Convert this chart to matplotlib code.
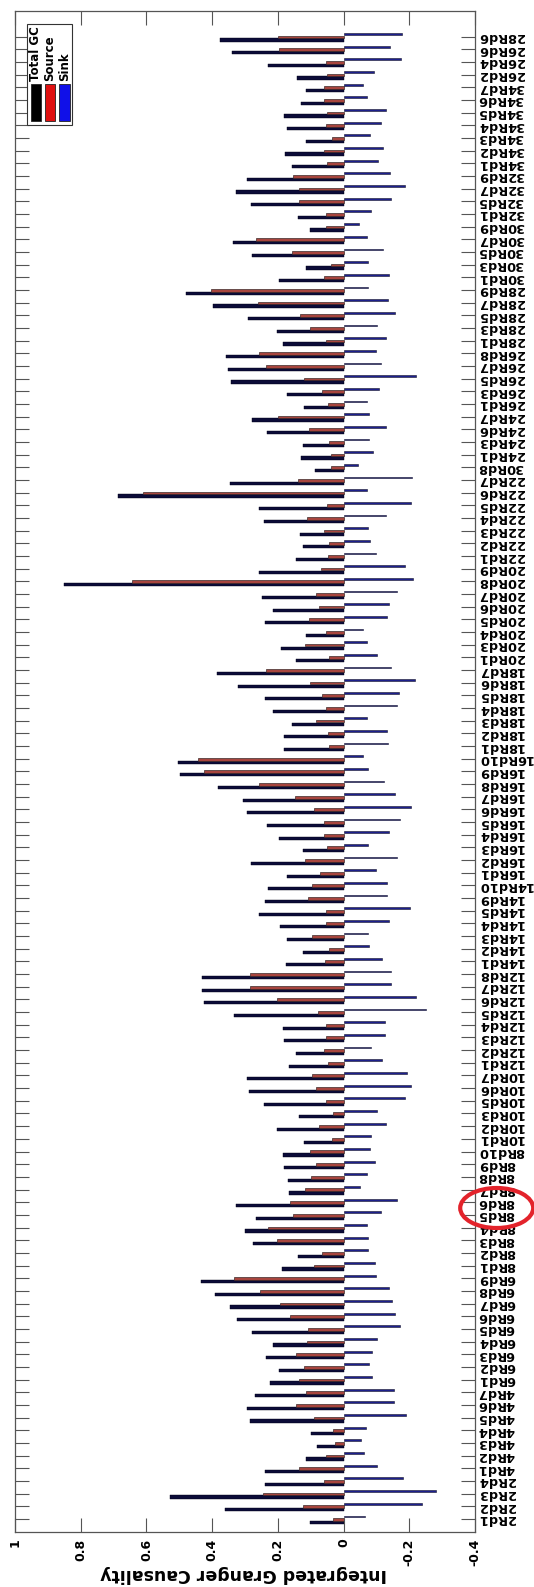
import matplotlib
matplotlib.use("Agg")
import matplotlib.pyplot as plt
from matplotlib.patches import Rectangle, Ellipse
import numpy as np

# Categories listed from the bottom of the chart (2Rd1) to the top (28Rd6)
labels = ['2Rd1', '2Rd2', '2Rd3', '2Rd4',
          '4Rd1', '4Rd2', '4Rd3', '4Rd4', '4Rd5', '4Rd6', '4Rd7',
          '6Rd1', '6Rd2', '6Rd3', '6Rd4', '6Rd5', '6Rd6', '6Rd7', '6Rd8', '6Rd9',
          '8Rd1', '8Rd2', '8Rd3', '8Rd4', '8Rd5', '8Rd6', '8Rd7', '8Rd8', '8Rd9', '8Rd10',
          '10Rd1', '10Rd2', '10Rd3', '10Rd5', '10Rd6', '10Rd7',
          '12Rd1', '12Rd2', '12Rd3', '12Rd4', '12Rd5', '12Rd6', '12Rd7', '12Rd8',
          '14Rd1', '14Rd2', '14Rd3', '14Rd4', '14Rd5', '14Rd9', '14Rd10',
          '16Rd1', '16Rd2', '16Rd3', '16Rd4', '16Rd5', '16Rd6', '16Rd7', '16Rd8', '16Rd9', '16Rd10',
          '18Rd1', '18Rd2', '18Rd3', '18Rd4', '18Rd5', '18Rd6', '18Rd7',
          '20Rd1', '20Rd3', '20Rd4', '20Rd5', '20Rd6', '20Rd7', '20Rd8', '20Rd9',
          '22Rd1', '22Rd2', '22Rd3', '22Rd4', '22Rd5', '22Rd6', '22Rd7',
          '30Rd8',
          '24Rd1', '24Rd3', '24Rd6', '24Rd7',
          '26Rd1', '26Rd3', '26Rd5', '26Rd7', '26Rd8',
          '28Rd1', '28Rd3', '28Rd5', '28Rd7', '28Rd9',
          '30Rd1', '30Rd3', '30Rd5', '30Rd7', '30Rd9',
          '32Rd1', '32Rd5', '32Rd7', '32Rd9',
          '34Rd1', '34Rd2', '34Rd3', '34Rd4', '34Rd5', '34Rd6', '34Rd7',
          '26Rd2', '26Rd4', '26Rd6', '28Rd6']

total_gc = [0.101, 0.362, 0.527, 0.240,
            0.239, 0.114, 0.081, 0.100, 0.285, 0.295, 0.271,
            0.223, 0.198, 0.236, 0.215, 0.279, 0.323, 0.346, 0.390, 0.434,
            0.187, 0.139, 0.276, 0.301, 0.267, 0.326, 0.167, 0.170, 0.181, 0.184,
            0.120, 0.204, 0.136, 0.242, 0.287, 0.293,
            0.167, 0.144, 0.181, 0.184, 0.332, 0.424, 0.432, 0.432,
            0.176, 0.123, 0.171, 0.192, 0.257, 0.240, 0.229,
            0.173, 0.282, 0.123, 0.196, 0.232, 0.293, 0.306, 0.382, 0.499, 0.504,
            0.181, 0.181, 0.156, 0.214, 0.238, 0.320, 0.384,
            0.144, 0.190, 0.115, 0.238, 0.214, 0.248, 0.852, 0.257,
            0.145, 0.123, 0.133, 0.242, 0.257, 0.685, 0.346,
            0.087,
            0.129, 0.123, 0.234, 0.279,
            0.120, 0.173, 0.343, 0.352, 0.357,
            0.184, 0.202, 0.290, 0.398, 0.479,
            0.198, 0.115, 0.279, 0.337, 0.103,
            0.139, 0.282, 0.326, 0.295,
            0.157, 0.179, 0.115, 0.171, 0.181, 0.131, 0.115,
            0.142, 0.229, 0.340, 0.376]

source = [0.033, 0.123, 0.245, 0.059,
          0.136, 0.053, 0.027, 0.032, 0.091, 0.144, 0.113,
          0.135, 0.119, 0.146, 0.111, 0.109, 0.164, 0.194, 0.253, 0.333,
          0.089, 0.066, 0.202, 0.230, 0.155, 0.162, 0.116, 0.099, 0.084, 0.103,
          0.035, 0.076, 0.033, 0.053, 0.084, 0.097,
          0.047, 0.061, 0.053, 0.055, 0.079, 0.202, 0.286, 0.286,
          0.056, 0.044, 0.095, 0.053, 0.053, 0.109, 0.095,
          0.073, 0.116, 0.051, 0.059, 0.059, 0.089, 0.148, 0.257, 0.426, 0.444,
          0.044, 0.047, 0.084, 0.053, 0.066, 0.103, 0.237,
          0.044, 0.116, 0.055, 0.106, 0.076, 0.084, 0.643, 0.068,
          0.047, 0.044, 0.061, 0.111, 0.051, 0.611, 0.140,
          0.038,
          0.038, 0.044, 0.105, 0.199,
          0.047, 0.066, 0.121, 0.237, 0.256,
          0.055, 0.101, 0.133, 0.261, 0.402,
          0.059, 0.038, 0.156, 0.267, 0.053,
          0.053, 0.136, 0.136, 0.154,
          0.051, 0.059, 0.035, 0.055, 0.051, 0.061, 0.059,
          0.050, 0.053, 0.196, 0.199]

sink = [-0.066, -0.238, -0.281, -0.182,
        -0.101, -0.062, -0.054, -0.068, -0.190, -0.152, -0.154,
        -0.085, -0.076, -0.088, -0.101, -0.172, -0.157, -0.148, -0.137, -0.098,
        -0.096, -0.074, -0.074, -0.071, -0.113, -0.162, -0.051, -0.071, -0.096, -0.079,
        -0.083, -0.129, -0.101, -0.187, -0.204, -0.193,
        -0.118, -0.083, -0.126, -0.126, -0.251, -0.220, -0.143, -0.145,
        -0.118, -0.076, -0.074, -0.137, -0.202, -0.131, -0.131,
        -0.098, -0.162, -0.074, -0.137, -0.172, -0.204, -0.158, -0.123, -0.074, -0.059,
        -0.134, -0.131, -0.071, -0.162, -0.170, -0.217, -0.145,
        -0.101, -0.071, -0.059, -0.131, -0.137, -0.162, -0.210, -0.187,
        -0.098, -0.079, -0.074, -0.129, -0.204, -0.071, -0.207,
        -0.045,
        -0.089, -0.076, -0.129, -0.076,
        -0.071, -0.107, -0.220, -0.113, -0.098,
        -0.129, -0.101, -0.158, -0.134, -0.074,
        -0.137, -0.074, -0.119, -0.071, -0.048,
        -0.084, -0.143, -0.187, -0.141,
        -0.104, -0.119, -0.079, -0.113, -0.129, -0.071, -0.058,
        -0.093, -0.174, -0.141, -0.177]

value_ticks = [1, 0.8, 0.6, 0.4, 0.2, 0, -0.2, -0.4]
value_tick_labels = ['1', '0.8', '0.6', '0.4', '0.2', '0', '-0.2', '-0.4']
series_names = ['Total GC', 'Source', 'Sink']

W, H = 534, 1587
fig = plt.figure(figsize=(W / 100, H / 100), dpi=100)
fig.patch.set_facecolor('white')


def fx(x):
    return x / W


def fy(y):
    return 1 - y / H


ax_left, ax_right, ax_top, ax_bottom = 15, 475, 11.2, 1531.6
ax = fig.add_axes([fx(ax_left), fy(ax_bottom), (ax_right - ax_left) / W, (ax_bottom - ax_top) / H])

pos = np.arange(1, len(labels) + 1)
ax.barh(pos - 0.27, total_gc, height=0.25, color='#0b0b38', edgecolor='#000014', linewidth=0.3)
ax.barh(pos - 0.03, source, height=0.22, color='#a8453e', edgecolor='#3d2b2a', linewidth=0.5)
ax.barh(pos + 0.20, sink, height=0.14, color='#1c1f8c', edgecolor='#15152a', linewidth=0.4)

ax.set_xlim(1, -0.4)
ax.set_ylim(0, 120)

ax.set_xticks(value_ticks)
ax.set_xticklabels(value_tick_labels, rotation=90, fontsize=9, fontweight='bold')
ax.set_yticks(pos)
ax.set_yticklabels(labels, rotation=180, fontsize=9.3, fontweight='bold', va='center')

ax.tick_params(axis='x', direction='in', length=9.8, width=0.8, colors='#555555',
               labelcolor='black', top=True, bottom=True, labelbottom=True, pad=5.0)
ax.tick_params(axis='y', direction='in', length=9.8, width=0.8, colors='#555555',
               labelcolor='black', left=True, right=True, labelleft=False,
               labelright=True, pad=2)
for sp in ax.spines.values():
    sp.set_color('#555555')
    sp.set_linewidth(0.9)

# y label of the rotated chart
fig.text(fx(244), fy(1574), 'Integrated Granger Causality', rotation=180,
         ha='center', va='center', fontsize=12.5, fontweight='bold')

# legend (drawn in rotated orientation)
fig.add_artist(Rectangle((fx(27.2), fy(125.3)), 45 / W, 101.5 / H,
                         transform=fig.transFigure, fc='white', ec='#333333', lw=0.8))
leg_cols = [(30.7, 10.2, '#000000'), (44.6, 9.9, '#e01010'), (58.6, 11.2, '#1010e8')]
for (x0, w, c), name in zip(leg_cols, series_names):
    fig.add_artist(Rectangle((fx(x0), fy(121)), w / W, 36.5 / H,
                             transform=fig.transFigure, fc=c, ec='#222222', lw=0.6))
    fig.text(fx(x0 + w / 2), fy(81), name, rotation=90, ha='center', va='bottom',
             fontsize=8.5, fontweight='bold')

# red annotation circle
fig.add_artist(Ellipse((fx(496.7), fy(1208)), 73 / W, 40 / H, transform=fig.transFigure,
                       fill=False, ec='#e3232b', lw=3))

fig.savefig('out.png', dpi=100, facecolor='white')
